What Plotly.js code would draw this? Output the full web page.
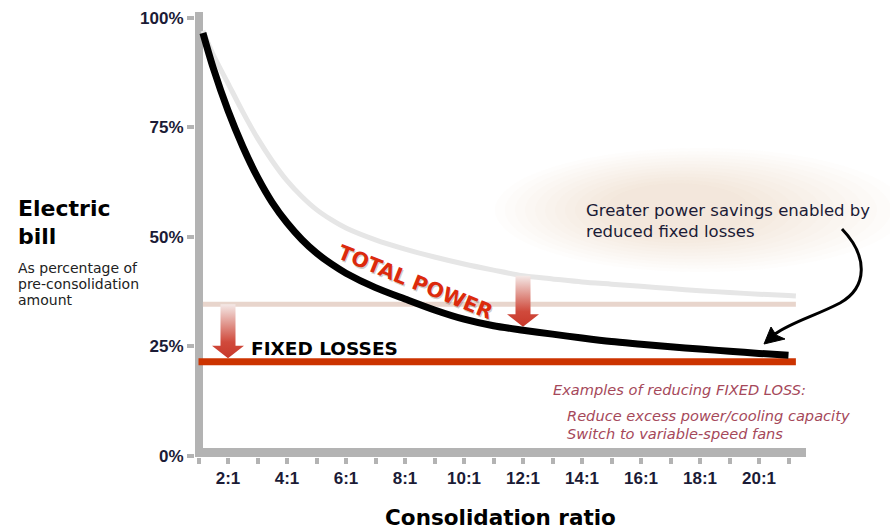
<!DOCTYPE html>
<html>
<head>
<meta charset="utf-8">
<script src="https://cdn.plot.ly/plotly-3.0.1.min.js"></script>
<style>html,body{margin:0;padding:0;background:#fff;}#chart{width:890px;height:531px;}</style>
</head>
<body>
<div id="chart"></div>
<script>
// ---------- data ----------
var ratioNow    = [1.15, 1.5, 2, 2.5, 3, 3.5, 4, 4.5, 5, 5.5, 6, 7, 8, 9, 10, 11, 12, 13, 14, 15, 16, 17, 18, 19, 20, 21];
var totalNow    = [96.5, 88.5, 78.8, 70.6, 63.6, 57.8, 53.2, 49.4, 46.3, 43.8, 41.7, 38.4, 35.8, 33.3, 31.2, 29.7, 28.7, 27.8, 26.9, 26.1, 25.5, 24.9, 24.4, 23.9, 23.4, 23.0];
var ratioBefore = [1.15, 1.5, 2, 2.5, 3, 3.5, 4, 4.5, 5, 5.5, 6, 7, 8, 9, 10, 11, 12, 13, 14, 15, 16, 17, 18, 19, 20, 21, 21.25];
var totalBefore = [97, 91.5, 85, 78.5, 72.5, 67.3, 62.8, 59.2, 56.2, 53.9, 52.0, 49.3, 47.2, 45.4, 43.8, 42.4, 41.1, 40.4, 39.7, 39.2, 38.7, 38.2, 37.7, 37.3, 36.9, 36.6, 36.5];
var fixedBefore = 34.6;   // % of pre-consolidation bill
var fixedNow    = 21.5;
var fixedNowX    = [1.0, 21.25];
var fixedBeforeX = [1.15, 21.25];
var tickVals  = [2, 4, 6, 8, 10, 12, 14, 16, 18, 20];
var tickText  = ['2:1', '4:1', '6:1', '8:1', '10:1', '12:1', '14:1', '16:1', '18:1', '20:1'];
var yTickVals = [0, 25, 50, 75, 100];
var yTickText = ['0%', '25%', '50%', '75%', '100%'];
var arrowAtFixed = 2;    // consolidation ratio where FIXED LOSS arrow sits
var arrowAtTotal = 12;   // consolidation ratio where TOTAL arrow sits

// ---------- layout geometry ----------
var W = 890, H = 531, L = 195, R = 806, T = 12, B = 457;
var xPerPx = 1 / 29.5, yPerPx = 1 / 4.384;
var xRange = [1 - 3.5 * xPerPx, 1 + (R - 198.5) * xPerPx];
var yRange = [(456 - B) * yPerPx, (456 - T) * yPerPx];
function P(x, y) { return [(x - L) / (R - L), (B - y) / (B - T)]; }

var SANS = 'DejaVu Sans', ARIAL = 'Liberation Sans';
var GRAY = '#b3b3b3', NAVY = '#1b1b36';

function valueAt(xs, ys, x) { return ys[xs.indexOf(x)]; }

function arrowTrace(xc, top, tip) {
  var w1 = 7.5 * xPerPx, w2 = 16 * xPerPx, hh = 12.5 * yPerPx;
  var xs = [xc - w1, xc + w1, xc + w1, xc + w2, xc, xc - w2, xc - w1, xc - w1];
  var ys = [top, top, tip + hh, tip + hh, tip, tip + hh, tip + hh, top];
  return {
    x: xs, y: ys, type: 'scatter', mode: 'lines', fill: 'toself',
    line: {width: 0, color: 'rgba(0,0,0,0)'}, hoverinfo: 'skip', showlegend: false,
    fillgradient: {type: 'vertical', start: tip, stop: top,
      colorscale: [[0, '#c8382a'], [0.3, '#d04a3c'], [0.55, '#dc8278'], [1, '#f4e9e7']]}
  };
}

var halfLine = 3.5 * yPerPx;
var traces = [
  {x: ratioBefore, y: totalBefore, type: 'scatter', mode: 'lines',
   line: {color: '#e6e6e6', width: 5, shape: 'spline', smoothing: 0.8}, hoverinfo: 'skip', showlegend: false},
  {x: fixedBeforeX, y: [fixedBefore, fixedBefore], type: 'scatter', mode: 'lines',
   line: {color: '#e8d5cc', width: 5}, hoverinfo: 'skip', showlegend: false},
  arrowTrace(arrowAtFixed, fixedBefore, fixedNow + halfLine),
  arrowTrace(arrowAtTotal, valueAt(ratioBefore, totalBefore, arrowAtTotal), valueAt(ratioNow, totalNow, arrowAtTotal) + halfLine),
  {x: fixedNowX, y: [fixedNow, fixedNow], type: 'scatter', mode: 'lines',
   line: {color: '#cc3300', width: 7}, hoverinfo: 'skip', showlegend: false},
  {x: ratioNow, y: totalNow, type: 'scatter', mode: 'lines',
   line: {color: '#000000', width: 7, shape: 'spline', smoothing: 0.8}, hoverinfo: 'skip', showlegend: false}
];

// ---------- decorations ----------
var shapes = [];
// soft warm glow behind the callout text
for (var g = 0; g < 12; g++) {
  var rx = 205 - g * 12, ry = 62 - g * 3.2, cx = 700 - g * 2, cy = 210;
  var a0 = P(cx - rx, cy - ry), b0 = P(cx + rx, cy + ry);
  shapes.push({type: 'circle', xref: 'paper', yref: 'paper', x0: a0[0], y0: b0[1], x1: b0[0], y1: a0[1],
    fillcolor: 'rgb(214,186,172)', opacity: 0.03, line: {width: 0}, layer: 'below'});
}
// axis bars
var vb = P(199, 0);
shapes.push({type: 'line', xref: 'paper', yref: 'paper', x0: vb[0], x1: vb[0], y0: 0, y1: 1,
  line: {color: GRAY, width: 8}, layer: 'below'});
var hb = P(0, 452.5);
shapes.push({type: 'line', xref: 'paper', yref: 'paper', x0: 0, x1: 1, y0: hb[1], y1: hb[1],
  line: {color: GRAY, width: 9}, layer: 'below'});
// curved callout arrow
function pathFrom(cmds) {
  return cmds.map(function (c) {
    var s = c[0];
    for (var i = 1; i < c.length; i += 2) { var p = P(c[i], c[i + 1]); s += ' ' + p[0] + ',' + p[1]; }
    return s;
  }).join(' ');
}
shapes.push({type: 'path', xref: 'paper', yref: 'paper',
  path: pathFrom([['M', 842, 229], ['C', 868, 256, 868, 287, 840, 303], ['C', 815, 316, 792, 322, 775, 334]]),
  line: {color: '#000', width: 3}, layer: 'above'});
shapes.push({type: 'path', xref: 'paper', yref: 'paper',
  path: pathFrom([['M', 764, 344], ['L', 771, 327], ['L', 776, 335], ['L', 785, 339], ['Z']]),
  fillcolor: '#000', line: {color: '#000', width: 1}, layer: 'above'});

function pa(text, x, y, font, extra) {
  var p = P(x, y);
  var a = {text: text, xref: 'paper', yref: 'paper', x: p[0], y: p[1], xanchor: 'left', yanchor: 'middle',
    showarrow: false, font: font};
  for (var k in extra) a[k] = extra[k];
  return a;
}
var boldBig = {family: SANS, size: 22, color: '#000', weight: 'bold'};
var small = {family: SANS, size: 14, color: '#222'};
var callout = {family: SANS, size: 16.5, color: NAVY};
var example = {family: SANS, size: 14.6, color: '#a5485a', style: 'italic'};
var dotsPos = P(0, 477);

var annotations = [
  pa('Electric', 16, 208, boldBig),
  pa('bill', 16, 236, boldBig),
  pa('As percentage of', 16, 268, small),
  pa('pre-consolidation', 16, 284, small),
  pa('amount', 16, 300, small),
  pa('Greater power savings enabled by', 584, 210, callout),
  pa('reduced fixed losses', 584, 231, callout),
  pa('Examples of reducing FIXED LOSS:', 551, 389, example),
  pa('Reduce excess power/cooling capacity', 565, 415, example),
  pa('Switch to variable-speed fans', 565, 433, example),
  {text: 'TOTAL POWER', x: 8.34, y: 39.6, xref: 'x', yref: 'y', showarrow: false, textangle: 22,
   xshift: 1.5, yshift: -1.5, font: {family: SANS, size: 20.5, color: 'rgba(0,0,0,0.2)', weight: 'bold'}},
  {text: 'TOTAL POWER', x: 8.34, y: 39.6, xref: 'x', yref: 'y', showarrow: false, textangle: 22,
   font: {family: SANS, size: 20.5, color: '#dc2a0c', weight: 'bold'}},
  {text: 'FIXED LOSSES', x: 2.72, y: 24.6, xref: 'x', yref: 'y', showarrow: false, xanchor: 'left', yanchor: 'middle',
   font: {family: SANS, size: 18.5, color: '#000', weight: 'bold'}},
  {text: '···', x: 21.66, y: dotsPos[1], xref: 'x', yref: 'paper', showarrow: false, xanchor: 'center', yanchor: 'middle',
   font: {family: ARIAL, size: 17, color: NAVY, weight: 'bold'}}
];

var layout = {
  width: W, height: H,
  margin: {l: L, r: W - R, t: T, b: H - B, pad: 0},
  paper_bgcolor: '#ffffff', plot_bgcolor: 'rgba(0,0,0,0)',
  showlegend: false,
  xaxis: {range: xRange, showgrid: false, zeroline: false, showline: false,
    tickmode: 'array', tickvals: tickVals, ticktext: tickText,
    ticks: 'outside', ticklen: 6, tickwidth: 4, tickcolor: GRAY,
    minor: {tick0: 1, dtick: 1, ticks: 'outside', ticklen: 6, tickwidth: 4, tickcolor: GRAY, showgrid: false},
    tickfont: {family: ARIAL, size: 17, color: NAVY, weight: 'bold'},
    title: {text: 'Consolidation ratio', standoff: 22, font: {family: SANS, size: 21.5, color: '#000', weight: 'bold'}},
    fixedrange: true},
  yaxis: {range: yRange, showgrid: false, zeroline: false, showline: false,
    tickmode: 'array', tickvals: yTickVals, ticktext: yTickText,
    ticks: 'outside', ticklen: 7, tickwidth: 4, tickcolor: GRAY,
    tickfont: {family: ARIAL, size: 17, color: NAVY, weight: 'bold'},
    fixedrange: true},
  shapes: shapes,
  annotations: annotations
};

Plotly.newPlot('chart', traces, layout, {staticPlot: true, displayModeBar: false});
</script>
</body>
</html>
